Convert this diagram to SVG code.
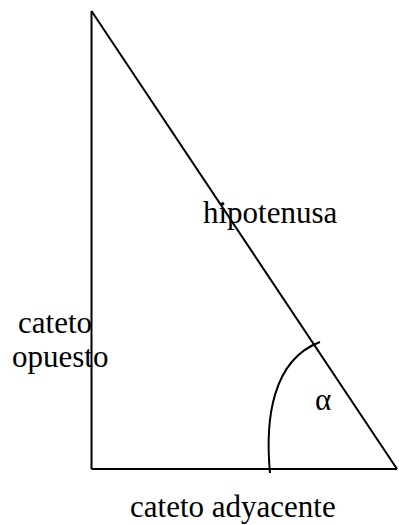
<svg xmlns="http://www.w3.org/2000/svg" width="399" height="525" viewBox="0 0 399 525">
<style>
.ln{fill:none;stroke:#000;stroke-width:2;}
.t{font-family:"Liberation Serif","Times New Roman",serif;font-size:31px;fill:#000;}
</style>
<rect width="399" height="525" fill="#fff"/>
<g id="connectors">
<path id="cateto-opuesto-line" class="ln" d="M91.5,11 L91.5,469"/>
<path id="cateto-adyacente-line" class="ln" d="M91.5,469 L397,469"/>
<path id="hipotenusa-line" class="ln" d="M91.5,11 L397,469"/>
<path id="angle-arc" class="ln" d="M270,473 C265,420 272,360 320,342"/>
</g>
<g id="label-hipotenusa"><text class="t" x="203" y="223">hipotenusa</text></g>
<g id="label-opuesto"><text class="t" x="18" y="333">cateto</text><text class="t" x="12" y="367">opuesto</text></g>
<g id="label-alpha"><text class="t" x="315" y="410">α</text></g>
<g id="label-adyacente"><text class="t" x="130" y="517">cateto adyacente</text></g>
</svg>
